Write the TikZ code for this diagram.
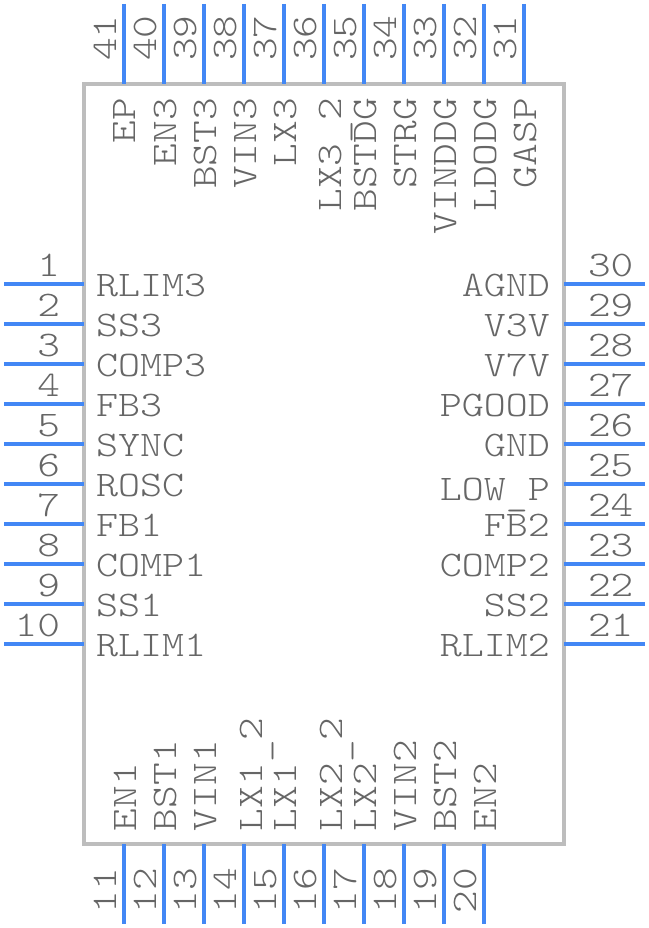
\documentclass[tikz,border=0pt]{standalone}
\usepackage{fontspec}
\newfontfamily\pinfont[FakeStretch=1.2]{Latin Modern Mono Light}
\newfontfamily\rowfont[FakeStretch=1.165]{Latin Modern Mono Light}
\newcommand{\ub}{\raisebox{-5pt}{\_}}
\definecolor{pinblue}{HTML}{4287F5}
\definecolor{bodygray}{HTML}{BDBDBD}
\definecolor{txtgray}{HTML}{666666}
\tikzset{
  pinline/.style={draw=pinblue,line width=4pt},
  pkgbody/.style={draw=bodygray,line width=4pt},
  lbl/.style={inner sep=0pt,outer sep=0pt,text=txtgray,font=\pinfont\fontsize{36}{36}\selectfont},
  rowlbl/.style={inner sep=0pt,outer sep=0pt,text=txtgray,font=\rowfont\fontsize{36}{36}\selectfont},
}
\begin{document}
\begin{tikzpicture}[x=1pt,y=-1pt]
\useasboundingbox (0,0) rectangle (648,928);
\draw[pkgbody] (84,84) rectangle (564,844);
% left pins
\foreach \n/\py/\t in {1/284/RLIM3,2/324/SS3,3/364/COMP3,4/404/FB3,5/444/SYNC,6/484/ROSC,7/524/FB1,8/564/COMP1,9/604/SS1,10/644/RLIM1}{
  \coordinate (pa\n) at (4,\py);
  \coordinate (pb\n) at (84,\py);
  \draw[pinline] (pa\n) -- (pb\n);
  \node[lbl,anchor=base east] (num\n) at (60,\py-8) {\n};
  \node[rowlbl,anchor=base west] (name\n) at (96,\py+12) {\t};
}
% right pins
\foreach \n/\py/\d/\t in {30/284/12/AGND,29/324/12/V3V,28/364/12/V7V,27/404/12/PGOOD,26/444/12/GND,25/484/16/LOW\ub P,24/524/12/FB2,23/564/12/COMP2,22/604/12/SS2,21/644/12/RLIM2}{
  \coordinate (pa\n) at (564,\py);
  \coordinate (pb\n) at (645,\py);
  \draw[pinline] (pa\n) -- (pb\n);
  \node[lbl,anchor=base west] (num\n) at (588,\py-8) {\n};
  \node[rowlbl,anchor=base east] (name\n) at (550,\py+\d) {\t};
}
% top pins
\foreach \n/\px/\d/\t in {41/124/11/EP,40/164/12/EN3,39/204/12/BST3,38/244/12/VIN3,37/284/12/LX3,36/324/17/LX3\ub 2,35/364/12/BSTDG,34/404/12/STRG,33/444/12/VINDDG,32/484/12/LDODG,31/524/12/GASP}{
  \coordinate (pa\n) at (\px,4);
  \coordinate (pb\n) at (\px,84);
  \draw[pinline] (pa\n) -- (pb\n);
  \node[lbl,rotate=90,anchor=base west] (num\n) at (\px-8,61) {\n};
  \node[lbl,rotate=90,anchor=base east] (name\n) at (\px+\d,98) {\t};
}
% bottom pins
\foreach \n/\px/\d/\t in {11/124/12/EN1,12/164/12/BST1,13/204/12/VIN1,14/244/18/LX1\ub 2,15/284/12/LX1,16/324/18/LX2\ub 2,17/364/12/LX2,18/404/12/VIN2,19/444/12/BST2,20/484/12/EN2}{
  \coordinate (pa\n) at (\px,844);
  \coordinate (pb\n) at (\px,924);
  \draw[pinline] (pa\n) -- (pb\n);
  \node[lbl,rotate=90,anchor=base west] (num\n) at (\px-8,913) {\n};
  \node[lbl,rotate=90,anchor=base west] (name\n) at (\px+\d,831) {\t};
}
\end{tikzpicture}
\end{document}
